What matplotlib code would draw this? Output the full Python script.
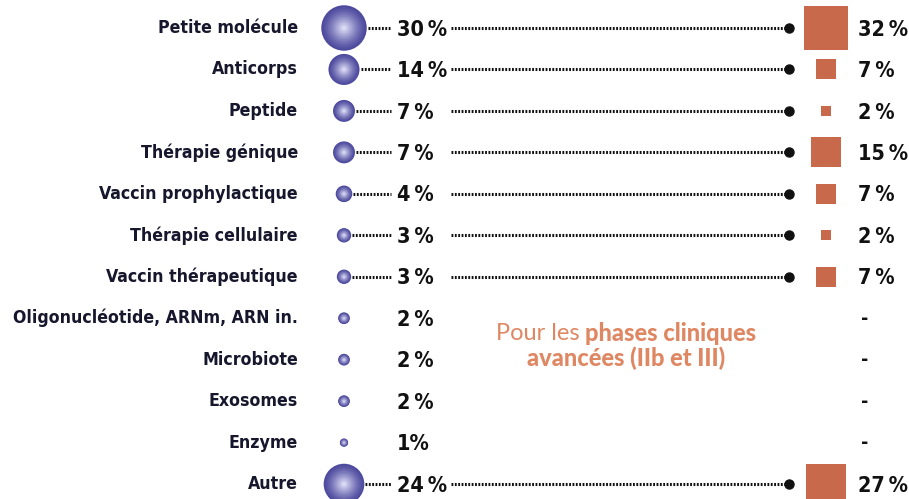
import numpy as np
import matplotlib.pyplot as plt
from matplotlib.colors import to_rgb

# categories and values (share of projects, %)
categories = ['Petite molécule', 'Anticorps', 'Peptide', 'Thérapie génique',
              'Vaccin prophylactique', 'Thérapie cellulaire', 'Vaccin thérapeutique',
              'Oligonucléotide, ARNm, ARN in.', 'Microbiote', 'Exosomes', 'Enzyme', 'Autre']
all_phases = [30, 14, 7, 7, 4, 3, 3, 2, 2, 2, 1, 24]
late_phases = [32, 7, 2, 15, 7, 2, 7, None, None, None, None, 27]

circle_edge = '#4e4a9e'
circle_center = '#dcdcf6'
square_col = '#c8694c'
note_col = '#df8762'
cond = dict(family='DejaVu Sans', fontstretch='condensed', fontweight='bold')

fig = plt.figure(figsize=(9.09, 4.99), dpi=100)
ax = fig.add_axes([0, 0, 1, 1])
ax.set_xlim(0, 909)
ax.set_ylim(11.36, -0.675)
ax.axis('off')

rows = np.arange(len(categories))
x_circle, x_pct, x_dot, x_sq, x_pct2 = 344, 397, 789, 826, 858

# circles: area proportional to value, fake radial gradient with layers
r_px = 4.15 * np.sqrt(np.array(all_phases, dtype=float))
c0, c1 = np.array(to_rgb(circle_edge)), np.array(to_rgb(circle_center))
for k, f in enumerate(np.linspace(1, 0.08, 14)):
    t = k / 13
    col = c0 + (c1 - c0) * t ** 1.3
    ax.scatter(np.full(len(rows), x_circle), rows, s=(2 * r_px * f * 0.72) ** 2,
               color=col, linewidths=0, zorder=3 + k * 0.01)

for i, (lab, v, w) in enumerate(zip(categories, all_phases, late_phases)):
    ax.text(298, i, lab, ha='right', va='center', fontsize=12.7, color='#16162c', **cond)
    ax.text(x_pct, i + 0.04, f'{v}\u2009%' if v > 1 else f'{v}%', ha='left', va='center',
            fontsize=15.5, color='#111111', **cond)
    if w is None:
        ax.text(x_pct2 + 3, i, '-', ha='left', va='center', fontsize=14,
                color='#111111', **cond)
        continue
    ls = (0, (0.6, 0.5))
    ax.plot([x_circle + r_px[i] + 1, 391], [i, i], color='#111111', lw=2.2, ls=ls, zorder=2)
    ax.plot([451, x_dot], [i, i], color='#111111', lw=2.2, ls=ls, zorder=2)
    ax.plot(x_dot, i, 'o', color='#111111', ms=6.5, zorder=4)
    side = 7.7 * np.sqrt(w)
    ax.scatter(x_sq, i, marker='s', s=(side * 0.72) ** 2, color=square_col,
               linewidths=0, zorder=3)
    ax.text(x_pct2, i + 0.04, f'{w}\u2009%', ha='left', va='center', fontsize=15.5,
            color='#111111', **cond)

# note, two lines centred on x=626
t1 = ax.text(0, 7.36, 'Pour les ', ha='left', va='center', fontsize=17,
             color=note_col, family='Lato')
t2 = ax.text(0, 7.36, 'phases cliniques', ha='left', va='center', fontsize=17,
             fontweight='black', color=note_col, family='Lato')
ax.text(626, 7.96, 'avancées (IIb et III)', ha='center', va='center', fontsize=17,
        fontweight='black', color=note_col, family='Lato')
fig.canvas.draw()
w1 = t1.get_window_extent().width
w2 = t2.get_window_extent().width
x0 = 626 - (w1 + w2) / 2
t1.set_x(x0)
t2.set_x(x0 + w1)

plt.savefig('out.png', dpi=100)
